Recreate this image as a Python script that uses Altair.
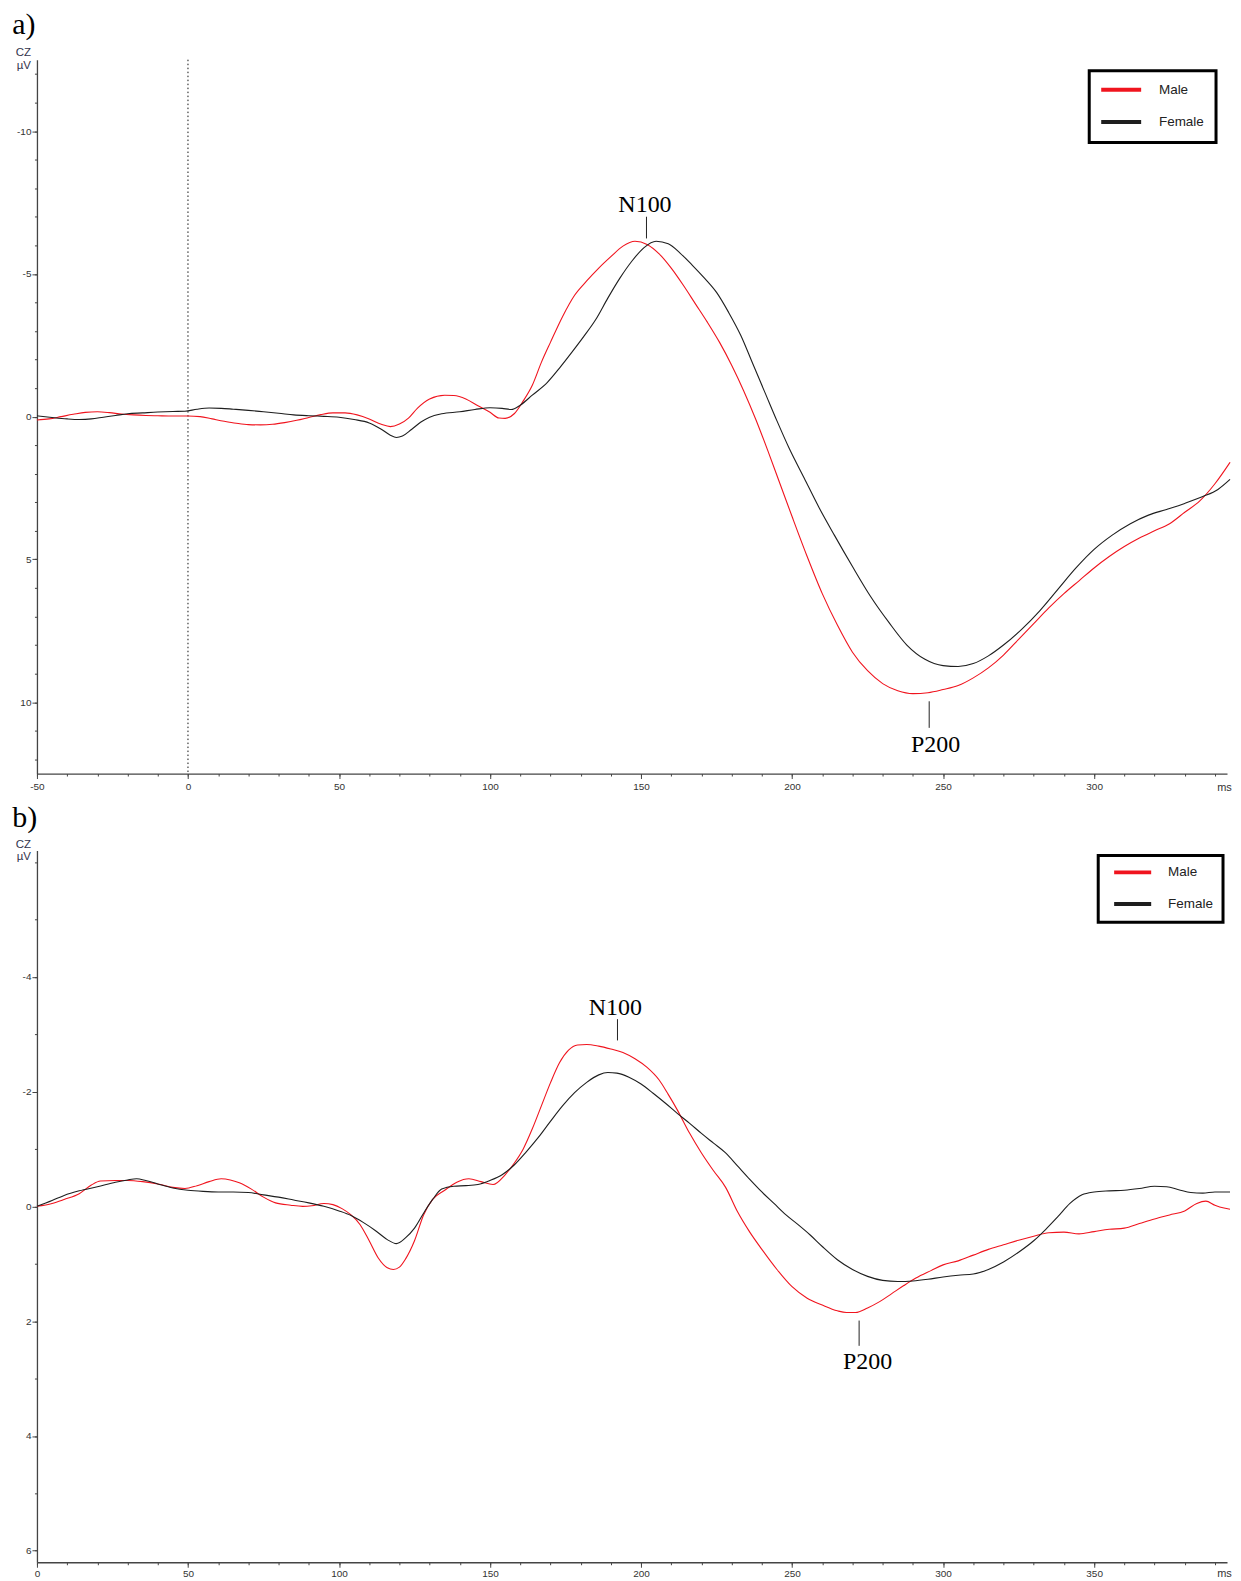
import altair as alt
import pandas as pd

RED = "#f0141e"
BLACK = "#1e1e1e"
SANS = "Liberation Sans"
SERIF = "Liberation Serif"
LABEL_C = "#333333"
AXIS_C = "#444444"

# ---------------- panel a data ----------------
A_MALE_MS = [-50, -46, -42, -38, -34, -30, -26, -22, -18, -14, -10, -5,
             0, 4, 8, 12, 16, 20, 24, 28, 32, 36, 40, 44, 48, 52, 56, 60, 64,
             67, 70, 73, 76, 80, 85, 88, 92, 96, 100, 103, 105, 108, 111, 114, 117, 120, 124, 128,
             132, 136, 140, 144, 148, 152, 156, 160, 164, 168, 172, 176, 180, 184, 188, 192, 196, 200,
             205, 210, 215, 220, 225, 230, 235, 240, 245, 250, 255, 260, 265, 270, 275, 280, 285, 290,
             295, 300, 305, 310, 315, 320, 325, 330, 335, 340, 345]
A_MALE_UV = [0.12, 0.08, 0.0, -0.08, -0.15, -0.17, -0.14, -0.09, -0.06, -0.04, -0.03, -0.02,
             -0.02, 0.0, 0.08, 0.16, 0.23, 0.28, 0.29, 0.27, 0.21, 0.13, 0.03, -0.07, -0.13, -0.13, -0.06, 0.08, 0.27,
             0.35, 0.26, 0.05, -0.3, -0.62, -0.75, -0.74, -0.62, -0.38, -0.15, 0.05, 0.06, -0.1, -0.55, -1.1, -1.9, -2.6, -3.5, -4.25,
             -4.75, -5.2, -5.6, -5.97, -6.14, -6.03, -5.7, -5.2, -4.6, -3.95, -3.3, -2.6, -1.8, -0.9, 0.1, 1.2, 2.35, 3.5,
             4.9, 6.2, 7.3, 8.25, 8.9, 9.35, 9.6, 9.7, 9.67, 9.56, 9.42, 9.15, 8.8, 8.35, 7.8, 7.25, 6.7, 6.2,
             5.75, 5.3, 4.9, 4.55, 4.25, 4.0, 3.75, 3.35, 2.95, 2.35, 1.6]
A_FEMALE_MS = [-50, -45, -40, -36, -32, -28, -24, -20, -15, -10, -5, -1,
               3, 7, 11, 15, 20, 25, 30, 35, 40, 45, 50, 55, 60,
               64, 67, 69, 71, 74, 77, 80, 84, 90, 95, 100, 104, 107, 110, 114, 119, 123, 127, 131, 135,
               139, 143, 147, 151, 155, 159, 163, 167, 171, 175, 179, 183, 187, 191, 195, 199,
               204, 209, 214, 220, 226, 232, 238, 244, 250, 255, 260, 265, 270, 276, 282, 288, 294, 300,
               306, 312, 318, 324, 330, 336, 341, 345]
A_FEMALE_UV = [-0.03, 0.03, 0.08, 0.1, 0.08, 0.02, -0.04, -0.1, -0.13, -0.16, -0.18, -0.19,
               -0.26, -0.3, -0.29, -0.26, -0.22, -0.17, -0.12, -0.06, -0.03, -0.01, 0.02, 0.1, 0.22,
               0.44, 0.65, 0.73, 0.68, 0.45, 0.2, 0.02, -0.1, -0.17, -0.25, -0.31, -0.29, -0.25, -0.4, -0.75, -1.2, -1.7, -2.24, -2.8, -3.4,
               -4.15, -4.85, -5.45, -5.92, -6.14, -6.05, -5.72, -5.3, -4.85, -4.35, -3.65, -2.85, -1.85, -0.85, 0.15, 1.1,
               2.15, 3.2, 4.15, 5.25, 6.3, 7.2, 8.0, 8.5, 8.72, 8.75, 8.65, 8.38, 8.0, 7.45, 6.8, 6.05, 5.3, 4.65,
               4.15, 3.75, 3.45, 3.25, 3.04, 2.8, 2.55, 2.2]

# ---------------- panel b data ----------------
B_MALE_MS = [0, 5, 9, 14, 18, 21, 26, 30, 35, 40, 45, 49, 53, 57, 61, 64, 67, 71, 75, 79,
             84, 88, 91, 95, 98, 101, 104, 107, 110, 113, 116, 118, 120, 122, 125, 128, 131, 135, 139, 143,
             147, 151, 155, 158, 161, 164, 167, 170, 173, 176, 179, 182, 186, 190, 194, 198, 202, 206, 209, 212,
             216, 220, 224, 228, 232, 236, 240, 245, 250, 255, 260, 265, 268, 271, 275, 279, 283, 287, 291, 296,
             300, 305, 310, 315, 320, 325, 330, 335, 340, 345, 350, 355, 360, 365, 370, 375, 380, 384, 387, 390,
             393, 395]
B_MALE_UV = [0, -0.05, -0.12, -0.22, -0.37, -0.44, -0.45, -0.45, -0.43, -0.39, -0.33, -0.31, -0.36, -0.43, -0.48, -0.46, -0.41, -0.3, -0.16, -0.06,
             -0.02, 0, -0.01, -0.05, -0.03, 0.04, 0.15, 0.32, 0.6, 0.9, 1.07, 1.1, 1.06, 0.92, 0.6, 0.15, -0.12, -0.28, -0.42, -0.48,
             -0.43, -0.38, -0.55, -0.75, -1.0, -1.35, -1.75, -2.15, -2.5, -2.72, -2.81, -2.82, -2.79, -2.74, -2.68, -2.57, -2.42, -2.2, -1.95, -1.68,
             -1.28, -0.93, -0.62, -0.33, 0.1, 0.45, 0.75, 1.1, 1.4, 1.6, 1.72, 1.82, 1.85, 1.85, 1.77, 1.66, 1.52, 1.38, 1.25, 1.12,
             1.02, 0.95, 0.85, 0.75, 0.67, 0.59, 0.52, 0.46, 0.45, 0.48, 0.44, 0.4, 0.38, 0.3, 0.22, 0.15, 0.08, -0.05, -0.09, -0.02,
             0.03, 0.05]
B_FEMALE_MS = [0, 5, 9, 14, 20, 26, 30, 33, 36, 40, 45, 50, 55, 60, 65, 70, 75, 80, 85, 90,
               95, 100, 104, 108, 112, 116, 119, 122, 125, 128, 131, 134, 138, 142, 146, 150, 154, 158, 162, 166,
               170, 174, 178, 182, 186, 189, 192, 196, 200, 204, 208, 212, 216, 220, 224, 228, 232, 236, 240, 244,
               248, 252, 256, 260, 265, 270, 275, 280, 285, 290, 295, 300, 305, 310, 315, 320, 325, 330, 334, 338,
               342, 346, 350, 355, 360, 365, 370, 374, 378, 382, 386, 390, 395]
B_FEMALE_UV = [0, -0.1, -0.19, -0.27, -0.34, -0.42, -0.46, -0.48, -0.45, -0.39, -0.32, -0.28, -0.26, -0.25, -0.25, -0.24, -0.2, -0.16, -0.11, -0.06,
               0, 0.08, 0.16, 0.28, 0.42, 0.58, 0.65, 0.55, 0.38, 0.12, -0.12, -0.3, -0.35, -0.36, -0.38, -0.45, -0.55, -0.72, -0.95, -1.2,
               -1.48, -1.75, -1.98, -2.16, -2.29, -2.33, -2.32, -2.25, -2.13, -1.97, -1.8, -1.62, -1.45, -1.27, -1.1, -0.93, -0.7, -0.47, -0.25, -0.05,
               0.15, 0.32, 0.5, 0.7, 0.93, 1.1, 1.22, 1.29, 1.31, 1.3, 1.27, 1.23, 1.2, 1.18, 1.1, 0.97, 0.8, 0.6, 0.4, 0.18,
               -0.05, -0.2, -0.25, -0.27, -0.28, -0.31, -0.35, -0.34, -0.29, -0.24, -0.23, -0.25, -0.25]

SERIES = ["Male", "Female"]

# ---------------- annotations ----------------
ANN_LABELS = ["N100", "P200"]
A_TEXT_MS = [151.3, 247.5]
A_TEXT_UV = [-7.17, 11.73]
A_TICK_MS = [151.8, 245.4]
A_TICK_UV1 = [-7.0, 9.97]
A_TICK_UV2 = [-6.24, 10.9]

B_TEXT_MS = [191.5, 275.0]
B_TEXT_UV = [-3.34, 2.83]
B_TICK_MS = [192.2, 272.2]
B_TICK_UV1 = [-3.26, 1.99]
B_TICK_UV2 = [-2.89, 2.43]

VLINE_MS = [0]

# ---------------- axes / ticks ----------------
A_X_DOMAIN = [-50, 344]
A_Y_DOMAIN = [-12.5, 12.5]
A_X_MAJOR = list(range(-50, 301, 50))
A_X_MINOR = list(range(-50, 341, 10))
A_Y_MAJOR = list(range(-10, 11, 5))
A_Y_MINOR = list(range(-12, 13, 1))

B_X_DOMAIN = [0, 394]
B_Y_DOMAIN = [-6.2, 6.2]
B_X_MAJOR = list(range(0, 351, 50))
B_X_MINOR = list(range(0, 391, 10))
B_Y_MAJOR = [-4, -2, 0, 2, 4, 6]
B_Y_MINOR = list(range(-6, 7, 1))


def long_df(m_ms, m_uv, f_ms, f_uv):
    rows = [{"ms": a, "uv": b, "sex": "Male"} for a, b in zip(m_ms, m_uv)]
    rows += [{"ms": a, "uv": b, "sex": "Female"} for a, b in zip(f_ms, f_uv)]
    return pd.DataFrame(rows)


def ann_df(tick_ms, uv1, uv2, text_ms, text_uv):
    return pd.DataFrame({"tick_ms": tick_ms, "uv1": uv1, "uv2": uv2,
                         "text_ms": text_ms, "text_uv": text_uv, "label": ANN_LABELS})


def panel(df, ann, vline, xdom, ydom, xmaj, xmin, ymaj, ymin, width, height,
          title_text, title_offset, legend, xlabel_pad, ms_y, cz_y):
    xs = alt.Scale(domain=xdom, nice=False, zero=False)
    ys = alt.Scale(domain=ydom, reverse=True, nice=False, zero=False)

    x_major = alt.Axis(values=xmaj, orient="bottom", tickSize=5, tickColor=AXIS_C, tickWidth=1,
                       domainColor=AXIS_C, domainWidth=1.3, grid=False,
                       labelExpr="'' + datum.value", labelFont=SANS, labelFontSize=10,
                       labelColor=LABEL_C, labelPadding=xlabel_pad, labelFlush=False, labelOverlap=False,
                       title="ms", titleX=width - 3, titleY=ms_y, titleAlign="center",
                       titleBaseline="middle", titleFont=SANS, titleFontSize=11,
                       titleFontWeight="normal", titleColor=LABEL_C)
    x_minor = alt.Axis(values=xmin, orient="bottom", tickSize=2.5, tickColor=AXIS_C, tickWidth=1,
                       domain=False, labels=False, grid=False, title=None)
    y_major = alt.Axis(values=ymaj, orient="left", tickSize=5, tickColor=AXIS_C, tickWidth=1,
                       domainColor=AXIS_C, domainWidth=1.3, grid=False,
                       labelExpr="'' + datum.value", labelFont=SANS, labelFontSize=10,
                       labelColor=LABEL_C, labelPadding=1, labelFlush=False, labelOverlap=False,
                       title=["CZ", "µV"], titleAngle=0, titleAlign="right",
                       titleBaseline="alphabetic", titleX=-6.5, titleY=cz_y, titleLineHeight=12.5,
                       titleFont=SANS, titleFontSize=11.5, titleFontWeight="normal",
                       titleColor="#33334d")
    y_minor = alt.Axis(values=ymin, orient="left", tickSize=2.5, tickColor=AXIS_C, tickWidth=1,
                       domain=False, labels=False, grid=False, title=None)

    color = alt.Color("sex:N", scale=alt.Scale(domain=SERIES, range=[RED, BLACK]), legend=legend)

    lines = alt.Chart(df).mark_line(strokeWidth=1.1, interpolate="monotone").encode(
        x=alt.X("ms:Q", scale=xs, axis=x_major),
        y=alt.Y("uv:Q", scale=ys, axis=y_major),
        color=color,
    )
    rules = alt.Chart(ann).mark_rule(color="#222222", strokeWidth=1).encode(
        x=alt.X("tick_ms:Q", scale=xs, axis=x_minor),
        y=alt.Y("uv1:Q", scale=ys, axis=y_minor),
        y2="uv2:Q",
    )
    texts = alt.Chart(ann).mark_text(font=SERIF, fontSize=24, align="center",
                                     baseline="alphabetic", color="black").encode(
        x=alt.X("text_ms:Q", scale=xs, axis=None),
        y=alt.Y("text_uv:Q", scale=ys, axis=None),
        text="label:N",
    )
    layers = [lines, rules, texts]
    if vline is not None:
        vl = alt.Chart(pd.DataFrame({"ms": vline})).mark_rule(
            color="#111111", strokeWidth=1, strokeDash=[1.5, 2.5]).encode(
            x=alt.X("ms:Q", scale=xs, axis=None))
        layers.insert(0, vl)
    return alt.layer(*layers).resolve_axis(x="independent", y="independent").properties(
        width=width, height=height,
        title=alt.TitleParams(text=title_text, anchor="start", frame="bounds", font=SERIF,
                              fontSize=30, fontWeight="normal", color="black",
                              baseline="alphabetic", offset=title_offset, dx=-3),
    )


legend_a = alt.Legend(title=None, orient="none", legendX=1054, legendY=11,
                      symbolType="M-4,0H4", symbolSize=100, symbolStrokeWidth=4,
                      symbolOffset=13, labelOffset=30.8, rowPadding=16.4, padding=12,
                      labelFont=SANS, labelFontSize=13.5, labelColor="#222222",
                      strokeColor="black", fillColor="white")
legend_b = alt.Legend(title=None, orient="none", legendX=1063, legendY=5,
                      symbolType="M-4,0H4", symbolSize=86, symbolStrokeWidth=4,
                      symbolOffset=17.5, labelOffset=28.4, rowPadding=15.6, padding=10,
                      labelFont=SANS, labelFontSize=13.5, labelColor="#222222",
                      strokeColor="black", fillColor="white")

chart_a = panel(long_df(A_MALE_MS, A_MALE_UV, A_FEMALE_MS, A_FEMALE_UV),
                ann_df(A_TICK_MS, A_TICK_UV1, A_TICK_UV2, A_TEXT_MS, A_TEXT_UV),
                VLINE_MS, A_X_DOMAIN, A_Y_DOMAIN, A_X_MAJOR, A_X_MINOR, A_Y_MAJOR, A_Y_MINOR,
                1192, 715, "a)", -17.5, legend_a, 3, 14, -4)
chart_b = panel(long_df(B_MALE_MS, B_MALE_UV, B_FEMALE_MS, B_FEMALE_UV),
                ann_df(B_TICK_MS, B_TICK_UV1, B_TICK_UV2, B_TEXT_MS, B_TEXT_UV),
                None, B_X_DOMAIN, B_Y_DOMAIN, B_X_MAJOR, B_X_MINOR, B_Y_MAJOR, B_Y_MINOR,
                1192, 713, "b)", -18.5, legend_b, 1.5, 11, -3)

chart = alt.vconcat(chart_a, chart_b, spacing=10).resolve_scale(color="independent").properties(
    padding={"left": 4, "top": 0.5, "right": 0, "bottom": 0}
).configure_view(stroke=None).configure_legend(strokeWidth=3)

chart.save("out.html", embed_options={"renderer": "svg", "actions": False})
